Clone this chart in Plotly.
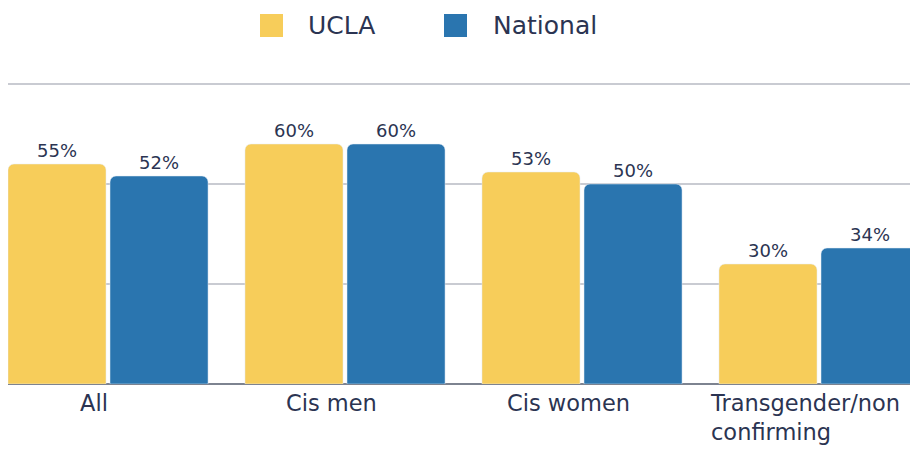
import plotly.graph_objects as go

categories = ["All", "Cis men", "Cis women", "Transgender/non<br>confirming"]
ucla = [55, 60, 53, 30]
national = [52, 60, 50, 34]
series_names = ["UCLA", "National"]
colors = ["#F7CD5A", "#2A75AF"]
text_color = "#2B3452"
FONT = "DejaVu Sans"

W, H = 910, 449
PLOT_LEFT = 8
PLOT_BOTTOM = 384  # screen y of baseline
PLOT_H = 302       # pixels for 0..75.5
PLOT_W = W - PLOT_LEFT

fig = go.Figure()
for name, vals, col in zip(series_names, [ucla, national], colors):
    fig.add_trace(go.Bar(
        x=categories, y=vals, name=name, marker_color=col,
        text=[f"{v}%" for v in vals], textposition="outside",
        textfont=dict(family=FONT, size=18, color=text_color),
        cliponaxis=False, showlegend=False, hoverinfo="skip",
    ))

# x-axis category labels (slightly left of the category centre, as in the reference)
for c in categories:
    fig.add_annotation(x=c, y=0, xref="x", yref="paper", yanchor="top",
                       xanchor="center", xshift=-14, yshift=-4, showarrow=False,
                       align="left", text=c,
                       font=dict(family=FONT, size=22.5, color=text_color))

# legend drawn as swatches + labels (positions given in screen pixels)
legend_items = [(260, 306), (444, 491)]
def px_x(sx):
    return (sx - PLOT_LEFT) / PLOT_W
def px_y(sy):
    return (PLOT_BOTTOM - sy) / PLOT_H
for (sx, tx), name, col in zip(legend_items, series_names, colors):
    fig.add_shape(type="rect", xref="paper", yref="paper",
                  x0=px_x(sx), x1=px_x(sx + 23),
                  y0=px_y(37), y1=px_y(14),
                  fillcolor=col, line=dict(width=0))
    fig.add_annotation(x=px_x(tx), y=px_y(25), xref="paper", yref="paper",
                       xanchor="left", yanchor="middle", showarrow=False, text=name,
                       font=dict(family=FONT, size=25, color=text_color))

fig.update_layout(
    width=W, height=H,
    margin=dict(l=PLOT_LEFT, r=0, t=PLOT_BOTTOM - PLOT_H, b=H - PLOT_BOTTOM),
    paper_bgcolor="white", plot_bgcolor="white",
    barmode="group", bargap=0.139, bargroupgap=0.039,
    barcornerradius=6,
    showlegend=False,
    xaxis=dict(range=[-0.422, -0.422 + PLOT_W / 237], showticklabels=False, showgrid=False,
               zeroline=False, showline=False, fixedrange=True),
    yaxis=dict(range=[0, 75.5], tickvals=[0, 25, 50, 75], showticklabels=False,
               showgrid=True, gridcolor="#C9CBD2", gridwidth=2,
               zeroline=True, zerolinecolor="#7D8390", zerolinewidth=2,
               showline=False, fixedrange=True),
)

fig.write_html("out.html", config={"displayModeBar": False},
               post_script="document.body.style.margin='0';document.body.style.overflow='hidden';")
